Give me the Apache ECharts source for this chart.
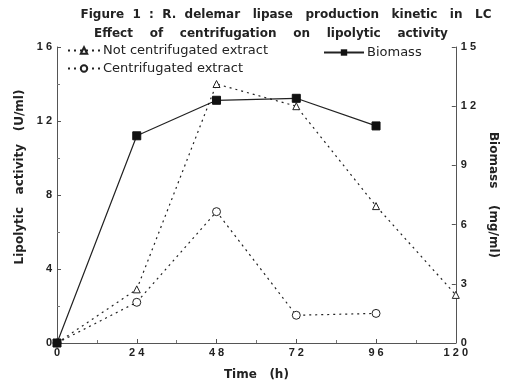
<!DOCTYPE html>
<html>
<head>
<meta charset="utf-8">
<script src="https://cdn.jsdelivr.net/npm/echarts@6/dist/echarts.min.js"></script>
<style>html,body{margin:0;padding:0;background:#fff}#c{width:507px;height:386px}</style>
</head>
<body>
<div id="c"></div>
<script>
var timeHours = [0, 24, 48, 72, 96, 120];
var notCentrifugated = [0, 2.9, 14.0, 12.8, 7.4, 2.6];
var centrifugated = [0, 2.2, 7.1, 1.5, 1.6];
var biomass = [0, 10.5, 12.3, 12.4, 11.0];
var xTickLabels = {0: '0', 24: '2 4', 48: '4 8', 72: '7 2', 96: '9 6', 120: '1 2 0'};
var leftTickLabels = {0: '0', 4: '4', 8: '8', 12: '1 2', 16: '1 6'};
var rightTickLabels = {0: '0', 3: '3', 6: '6', 9: '9', 12: '1 2', 15: '1 5'};

function pairs(xs, ys) { return ys.map(function (v, i) { return [xs[i], v]; }); }

var ink = '#222';
var font = 'Liberation Sans';
var wide = 'DejaVu Sans';
var chart = echarts.init(document.getElementById('c'), null, {renderer: 'canvas'});
var axisCommon = {
  axisLine: {show: true, lineStyle: {color: '#555', width: 1}},
  axisTick: {show: true, inside: true, length: 4, lineStyle: {color: '#555'}},
  minorTick: {show: true, splitNumber: 2, length: 3, lineStyle: {color: '#777'}},
  splitLine: {show: false},
  axisLabel: {color: ink, fontFamily: font, fontWeight: 'bold', fontSize: 11},
  nameTextStyle: {color: ink, fontFamily: wide, fontWeight: 'bold', fontSize: 12}
};
chart.setOption({
  backgroundColor: '#fff',
  animation: false,
  title: [
    {text: 'Figure  1  :  R.  delemar   lipase   production   kinetic   in   LC', left: 281, textAlign: 'center', top: 4,
     textStyle: {color: ink, fontFamily: wide, fontWeight: 'bold', fontSize: 12}},
    {text: 'Effect    of    centrifugation    on    lipolytic    activity', left: 266, textAlign: 'center', top: 23,
     textStyle: {color: ink, fontFamily: wide, fontWeight: 'bold', fontSize: 12}}
  ],
  legend: [
    {data: ['Not centrifugated extract', 'Centrifugated extract'], orient: 'vertical', left: 62, top: 39,
     itemWidth: 32, itemHeight: 8, itemGap: 5,
     textStyle: {color: ink, fontFamily: wide, fontSize: 13, padding: [0, 0, 0, -2]}},
    {data: ['Biomass'], left: 318, top: 41, itemWidth: 40, itemHeight: 8,
     textStyle: {color: ink, fontFamily: wide, fontSize: 13, padding: [0, 0, 0, -2]}}
  ],
  grid: {left: 57, right: 49, top: 47, bottom: 43},
  xAxis: Object.assign({}, axisCommon, {
    type: 'value', min: 0, max: 120, interval: 24,
    name: 'Time   (h)', nameLocation: 'middle', nameGap: 26,
    axisLabel: Object.assign({}, axisCommon.axisLabel, {margin: 4, formatter: function (v) { return xTickLabels[v]; }})
  }),
  yAxis: [
    Object.assign({}, axisCommon, {
      type: 'value', min: 0, max: 16, interval: 4, position: 'left',
      name: 'Lipolytic   activity   (U/ml)', nameLocation: 'middle', nameGap: 30, nameRotate: 90,
      nameTextStyle: Object.assign({}, axisCommon.nameTextStyle, {padding: [0, 0, 0, 36]}),
      axisLabel: Object.assign({}, axisCommon.axisLabel, {margin: 5, formatter: function (v) { return leftTickLabels[v]; }})
    }),
    Object.assign({}, axisCommon, {
      type: 'value', min: 0, max: 15, interval: 3, position: 'right',
      name: 'Biomass    (mg/ml)', nameLocation: 'middle', nameGap: 30, nameRotate: -90,
      minorTick: {show: false},
      axisLabel: Object.assign({}, axisCommon.axisLabel, {margin: 5, formatter: function (v) { return rightTickLabels[v]; }})
    })
  ],
  series: [
    {name: 'Not centrifugated extract', type: 'line', yAxisIndex: 0, data: pairs(timeHours, notCentrifugated),
     symbol: 'triangle', symbolSize: 7, showAllSymbol: true,
     itemStyle: {color: '#fff', borderColor: ink, borderWidth: 1},
     lineStyle: {color: ink, width: 1.2, type: [2, 4]}},
    {name: 'Centrifugated extract', type: 'line', yAxisIndex: 0, data: pairs(timeHours, centrifugated),
     symbol: 'circle', symbolSize: 8, showAllSymbol: true,
     itemStyle: {color: '#fff', borderColor: ink, borderWidth: 1},
     lineStyle: {color: ink, width: 1.2, type: [2, 4]}},
    {name: 'Biomass', type: 'line', yAxisIndex: 1, data: pairs(timeHours, biomass),
     symbol: 'rect', symbolSize: 8, showAllSymbol: true,
     itemStyle: {color: '#111', borderColor: '#111'},
     lineStyle: {color: ink, width: 1.2}}
  ]
});
</script>
</body>
</html>
